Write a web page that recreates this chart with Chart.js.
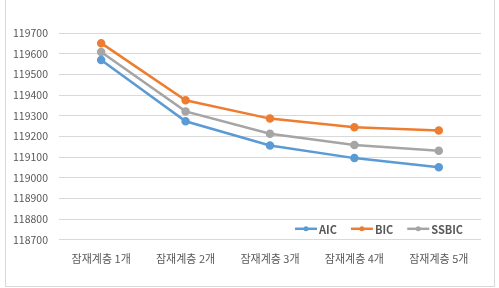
<!DOCTYPE html>
<html>
<head>
<meta charset="utf-8">
<script src="https://cdn.jsdelivr.net/npm/chart.js@4/dist/chart.umd.min.js"></script>
<style>
  html, body { margin: 0; padding: 0; background: #fff; }
  #wrap { width: 499px; height: 288px; position: relative; }
</style>
</head>
<body>
<div id="wrap"><canvas id="chart"></canvas></div>
<script>
// Data
const categories = ['잠재계층 1개', '잠재계층 2개', '잠재계층 3개', '잠재계층 4개', '잠재계층 5개'];
const aicValues = [119569, 119273, 119156, 119095, 119051];
const bicValues = [119651, 119375, 119286, 119244, 119228];
const ssbicValues = [119608, 119321, 119213, 119158, 119131];
const yTicks = [118700, 118800, 118900, 119000, 119100, 119200, 119300, 119400, 119500, 119600, 119700];

const FONT = '"Noto Sans CJK KR", "Noto Sans", sans-serif';

function series(label, data, color) {
    return {
        label: label,
        data: data,
        borderColor: color,
        backgroundColor: color,
        borderWidth: 2.5,
        pointRadius: 3,
        pointHoverRadius: 3,
        tension: 0
    };
}

// legend drawn inside the plot area, bottom right
const insideLegend = {
    id: 'insideLegend',
    afterDraw(chart) {
        const ctx = chart.ctx;
        const area = chart.chartArea;
        const y = area.bottom - 11;
        let x = area.right - 186;
        ctx.save();
        ctx.font = '600 11px ' + FONT;
        ctx.textBaseline = 'middle';
        chart.data.datasets.forEach(ds => {
            ctx.strokeStyle = ds.borderColor;
            ctx.fillStyle = ds.borderColor;
            ctx.lineWidth = 2.5;
            ctx.beginPath();
            ctx.moveTo(x, y);
            ctx.lineTo(x + 22, y);
            ctx.stroke();
            ctx.beginPath();
            ctx.arc(x + 11, y, 2.5, 0, Math.PI * 2);
            ctx.fill();
            ctx.fillStyle = '#595959';
            ctx.fillText(ds.label, x + 24, y + 1);
            x += 24 + ctx.measureText(ds.label).width + 14;
        });
        ctx.restore();
    }
};

// thin frame round the picture
const frame = {
    id: 'frame',
    beforeDraw(chart) {
        const ctx = chart.ctx;
        ctx.save();
        ctx.strokeStyle = '#D9D9D9';
        ctx.lineWidth = 1;
        ctx.strokeRect(5.5, -1, 489, 287.5);
        ctx.restore();
    }
};

new Chart(document.getElementById('chart'), {
    type: 'line',
    data: {
        labels: categories,
        datasets: [
            series('AIC', aicValues, '#5B9BD5'),
            series('BIC', bicValues, '#ED7D31'),
            series('SSBIC', ssbicValues, '#A5A5A5')
        ]
    },
    options: {
        responsive: true,
        maintainAspectRatio: false,
        animation: false,
        layout: { padding: { top: 33, right: 18, bottom: 19, left: 2 } },
        plugins: {
            legend: { display: false },
            tooltip: { enabled: false }
        },
        scales: {
            x: {
                offset: true,
                grid: { display: false },
                border: { display: false },
                ticks: { color: '#595959', font: { family: FONT, size: 11 }, padding: 4, maxRotation: 0 }
            },
            y: {
                min: 118700,
                max: 119700,
                afterBuildTicks(axis) { axis.ticks = yTicks.map(v => ({ value: v })); },
                grid: { color: '#D9D9D9', drawTicks: false },
                border: { display: false },
                ticks: {
                    color: '#595959',
                    font: { family: FONT, size: 10.5 },
                    padding: 11,
                    callback: v => String(v)
                }
            }
        }
    },
    plugins: [insideLegend, frame]
});
</script>
</body>
</html>
